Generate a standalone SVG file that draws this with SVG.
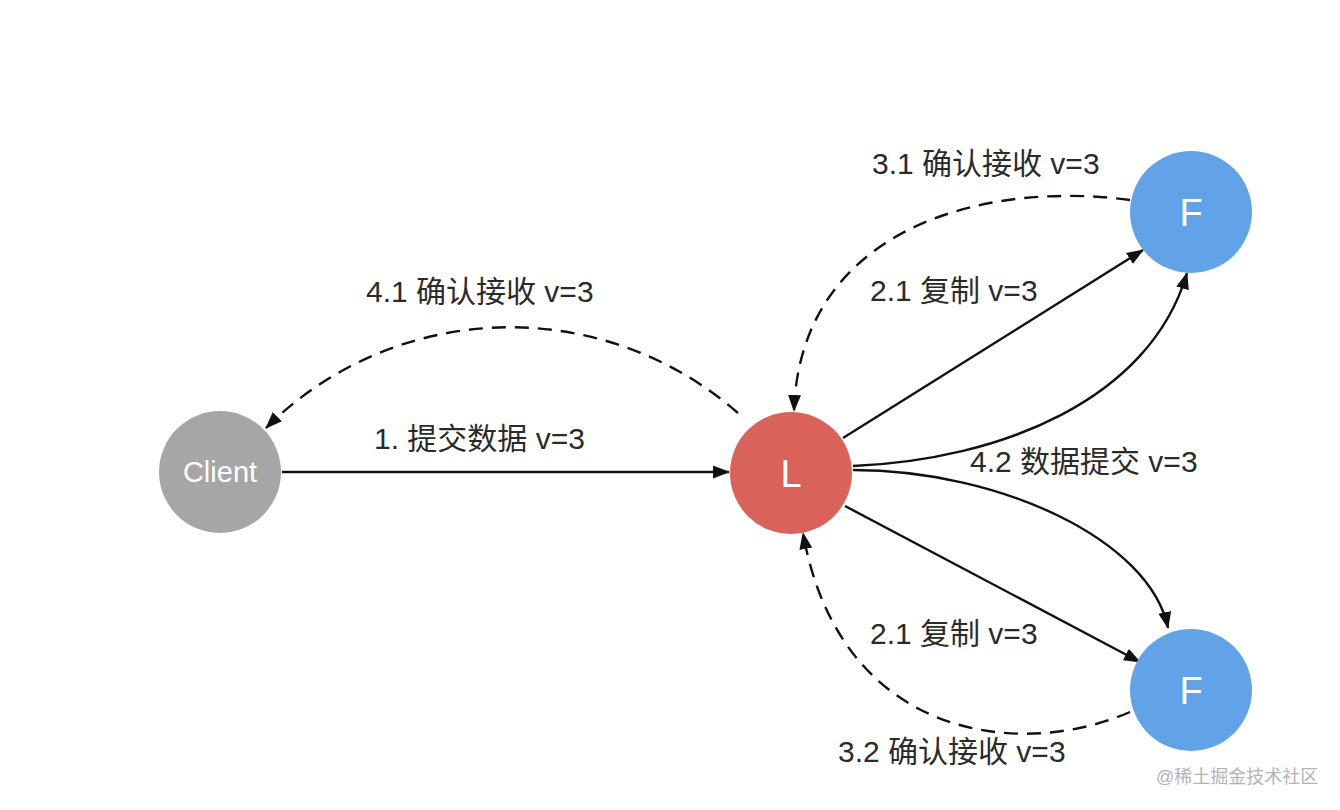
<svg xmlns="http://www.w3.org/2000/svg" width="1340" height="810" viewBox="0 0 1340 810">
<style>
.lbl{font-family:"Liberation Sans","Noto Sans CJK SC",sans-serif;font-size:30px;fill:#2a2a2a}
.nt{font-family:"Liberation Sans","Noto Sans CJK SC",sans-serif;fill:#ffffff;text-anchor:middle}
.c{fill:none;stroke:#111;stroke-width:2.4}
.d{stroke-dasharray:14 9}
</style>
<defs>
<marker id="ah" markerUnits="userSpaceOnUse" markerWidth="18" markerHeight="14" refX="16" refY="6.5" orient="auto">
<path d="M0,0 L17,6.5 L0,13 z" fill="#111"/>
</marker>
</defs>
<rect width="1340" height="810" fill="#ffffff"/>
<g id="connectors">
<path class="c" d="M282,472 L729,472" marker-end="url(#ah)"/>
<path class="c d" d="M738,413 A346,346 0 0 0 266,428" marker-end="url(#ah)"/>
<path class="c" d="M843,438 L1143,250" marker-end="url(#ah)"/>
<path class="c" d="M845,506 L1140,662" marker-end="url(#ah)"/>
<path class="c" d="M853,466 C1000,460 1150,400 1187,273" marker-end="url(#ah)"/>
<path class="c" d="M853,470 C1000,470 1150,540 1168,628" marker-end="url(#ah)"/>
<path class="c d" d="M1130,200 C980,180 800,230 794,411" marker-end="url(#ah)"/>
<path class="c d" d="M1130,712 C1020,760 840,740 803,533" marker-end="url(#ah)"/>
</g>
<g id="client">
<circle cx="220" cy="472" r="61" fill="#a6a6a6"/>
<text class="nt" x="220" y="482" font-size="29" fill="#f2f2f2">Client</text>
</g>
<g id="leader">
<circle cx="791" cy="473" r="61" fill="#d9625b"/>
<text class="nt" x="791" y="487" font-size="38">L</text>
</g>
<g id="follower-top">
<circle cx="1191" cy="212" r="61" fill="#62a3e8"/>
<text class="nt" x="1191" y="226" font-size="38">F</text>
</g>
<g id="follower-bottom">
<circle cx="1191" cy="690" r="61" fill="#62a3e8"/>
<text class="nt" x="1191" y="704" font-size="38">F</text>
</g>
<g id="labels">
<text class="lbl" x="872" y="174">3.1 确认接收 v=3</text>
<text class="lbl" x="870" y="301">2.1 复制 v=3</text>
<text class="lbl" x="366" y="302">4.1 确认接收 v=3</text>
<text class="lbl" x="374" y="449">1. 提交数据 v=3</text>
<text class="lbl" x="970" y="472">4.2 数据提交 v=3</text>
<text class="lbl" x="870" y="644">2.1 复制 v=3</text>
<text class="lbl" x="838" y="762">3.2 确认接收 v=3</text>
<text x="1156" y="783" font-family="Liberation Sans, Noto Sans CJK SC, sans-serif" font-size="18" fill="#b3b3b3">@稀土掘金技术社区</text>
</g>
</svg>
